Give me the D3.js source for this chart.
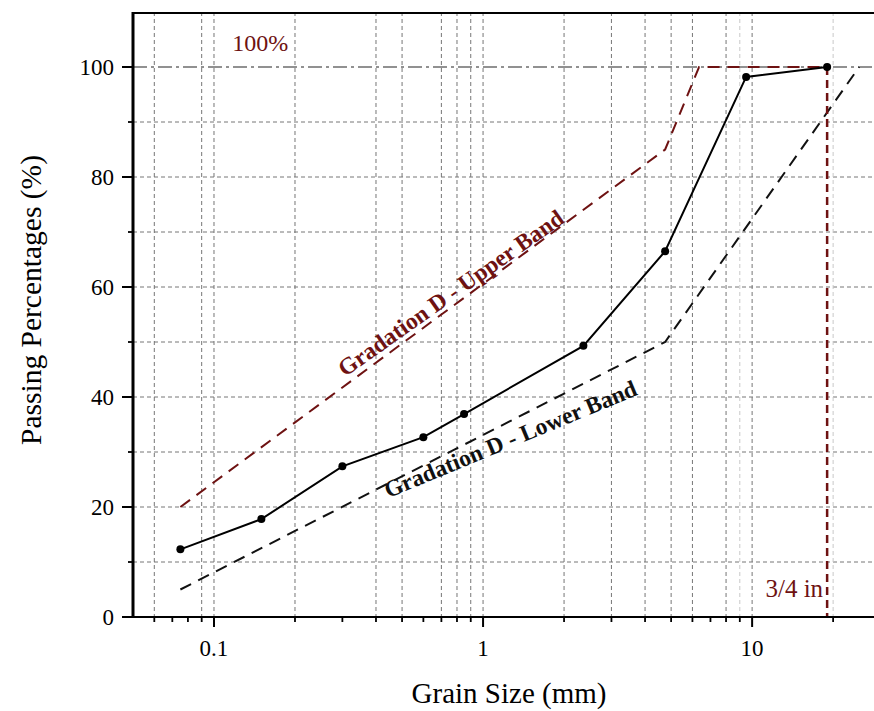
<!DOCTYPE html>
<html><head><meta charset="utf-8">
<script src="https://cdn.jsdelivr.net/npm/d3@7"></script>
<style>
body{margin:0;background:#fff}
svg{display:block}
text{font-family:"Liberation Serif","Times New Roman",serif}
</style>
</head><body>
<svg id="c" width="874" height="711"></svg>
<script>
// ---- data ----
const sieveSizes = [0.075, 0.15, 0.3, 0.6, 0.85, 2.36, 4.75, 9.5, 19];
const passing    = [12.3, 17.8, 27.4, 32.7, 36.9, 49.3, 66.5, 98.2, 100];
const upperSizes = [0.075, 4.75, 6.35, 19];
const upperBand  = [20, 85, 100, 100];
const lowerSizes = [0.075, 4.75, 25];
const lowerBand  = [5, 50, 100];
const xMajorTicks = [0.1, 1, 10];
const xTickLabels = ["0.1", "1", "10"];
const xMinorTicks = [0.06,0.07,0.08,0.09,0.2,0.3,0.4,0.5,0.6,0.7,0.8,0.9,2,3,4,5,6,7,8,9,20];
const yMajorTicks = [0, 20, 40, 60, 80, 100];
const yTickLabels = ["0", "20", "40", "60", "80", "100"];
const yMinorTicks = [10, 30, 50, 70, 90];
const yGrid = [10, 20, 30, 40, 50, 60, 70, 80, 90];
const xGrid = [0.06, 0.09, 0.1, 0.2, 0.4, 0.5, 0.7, 0.8, 0.9, 1, 2, 3, 4, 5, 6, 8, 10];
const xGridLight = [9, 20];
const refLine = 100;
const sieve34 = 19;

// ---- layout ----
const W = 874, H = 711;
const L = 133, B = 617, T = 12;
const x = d3.scaleLog().domain([0.05, 30]).range([L, 880.5]);
const y = d3.scaleLinear().domain([0, 110]).range([B, T]);
const RED = "#6e1212";
const GRID = "#767676";

const svg = d3.select("#c");
svg.append("defs").append("clipPath").attr("id","clip")
  .append("rect").attr("x", L).attr("y", T).attr("width", W - L).attr("height", B - T);

const g = svg.append("g").attr("clip-path","url(#clip)");

// grid
g.selectAll(".gy").data(yGrid).join("line")
  .attr("x1", L).attr("x2", W).attr("y1", d => y(d)).attr("y2", d => y(d))
  .attr("stroke", GRID).attr("stroke-width", 1).attr("stroke-dasharray", "4,3");
g.selectAll(".gx").data(xGrid).join("line")
  .attr("x1", d => x(d)).attr("x2", d => x(d)).attr("y1", T).attr("y2", B)
  .attr("stroke", GRID).attr("stroke-width", 1).attr("stroke-dasharray", "4,3");
g.selectAll(".gxl").data(xGridLight).join("line")
  .attr("x1", d => x(d)).attr("x2", d => x(d)).attr("y1", T).attr("y2", B)
  .attr("stroke", "#c8c8c8").attr("stroke-width", 1).attr("stroke-dasharray", "4,3");

// 100% reference line
g.append("line").attr("x1", L).attr("x2", W).attr("y1", y(refLine)).attr("y2", y(refLine))
  .attr("stroke", "#6e6e6e").attr("stroke-width", 1.5).attr("stroke-dasharray", "14,4,3,4");

const line = d3.line().x(d => x(d[0])).y(d => y(d[1]));

// bands
g.append("path").datum(upperSizes.map((s,i) => [s, upperBand[i]]))
  .attr("d", line).attr("fill","none").attr("stroke", RED).attr("stroke-width", 2)
  .attr("stroke-dasharray", "12,8");
g.append("path").datum(lowerSizes.map((s,i) => [s, lowerBand[i]]))
  .attr("d", line).attr("fill","none").attr("stroke", "#111").attr("stroke-width", 2)
  .attr("stroke-dasharray", "12,8");

// 3/4 in vertical
g.append("line").attr("x1", x(sieve34)).attr("x2", x(sieve34)).attr("y1", y(100)).attr("y2", y(0))
  .attr("stroke", RED).attr("stroke-width", 2.5).attr("stroke-dasharray", "8,5");

// gradation curve
const pts = sieveSizes.map((s,i) => [s, passing[i]]);
g.append("path").datum(pts).attr("d", line).attr("fill","none")
  .attr("stroke", "#000").attr("stroke-width", 2);
g.selectAll(".pt").data(pts).join("circle")
  .attr("cx", d => x(d[0])).attr("cy", d => y(d[1])).attr("r", 4).attr("fill", "#000");

// axes
svg.append("line").attr("x1", L).attr("x2", W).attr("y1", B).attr("y2", B)
  .attr("stroke", "#000").attr("stroke-width", 2);
svg.append("line").attr("x1", L).attr("x2", W).attr("y1", T + 1).attr("y2", T + 1)
  .attr("stroke", "#000").attr("stroke-width", 2);
svg.append("line").attr("x1", L).attr("x2", L).attr("y1", T).attr("y2", B + 1)
  .attr("stroke", "#000").attr("stroke-width", 3);

// x ticks
svg.selectAll(".xmaj").data(xMajorTicks).join("line")
  .attr("x1", d => x(d)).attr("x2", d => x(d)).attr("y1", B).attr("y2", B + 10)
  .attr("stroke", "#000").attr("stroke-width", 2);
svg.selectAll(".xmin").data(xMinorTicks).join("line")
  .attr("x1", d => x(d)).attr("x2", d => x(d)).attr("y1", B).attr("y2", B + 5)
  .attr("stroke", "#000").attr("stroke-width", 1.8);
svg.selectAll(".xlab").data(xMajorTicks).join("text")
  .attr("x", d => x(d)).attr("y", B + 39).attr("text-anchor", "middle")
  .attr("font-size", 23).attr("fill", "#000").text((d,i) => xTickLabels[i]);

// y ticks
svg.selectAll(".ymaj").data(yMajorTicks).join("line")
  .attr("x1", L - 11).attr("x2", L).attr("y1", d => y(d)).attr("y2", d => y(d))
  .attr("stroke", "#000").attr("stroke-width", 2);
svg.selectAll(".ymin").data(yMinorTicks).join("line")
  .attr("x1", L - 5).attr("x2", L).attr("y1", d => y(d)).attr("y2", d => y(d))
  .attr("stroke", "#000").attr("stroke-width", 1.8);
svg.selectAll(".ylab").data(yMajorTicks).join("text")
  .attr("x", L - 19).attr("y", d => y(d) + 8).attr("text-anchor", "end")
  .attr("font-size", 23).attr("fill", "#000").text((d,i) => yTickLabels[i]);

// axis titles
svg.append("text").attr("x", 509).attr("y", 703).attr("text-anchor", "middle")
  .attr("font-size", 29).attr("fill", "#000").text("Grain Size (mm)");
svg.append("text").attr("transform", "translate(41,300) rotate(-90)").attr("text-anchor", "middle")
  .attr("font-size", 29.5).attr("fill", "#000").text("Passing Percentages (%)");

// annotations
svg.append("text").attr("x", x(0.117)).attr("y", y(102.9)).attr("font-size", 24)
  .attr("fill", RED).text("100%");
svg.append("text").attr("x", x(sieve34) - 4).attr("y", y(3.6)).attr("text-anchor", "end")
  .attr("font-size", 25).attr("fill", RED).text("3/4 in");

svg.append("text")
  .attr("transform", `translate(${x(0.307)},${y(43.6)}) rotate(-35.2)`)
  .attr("font-size", 23.5).attr("font-weight", "bold").attr("fill", RED)
  .text("Gradation D - Upper Band");
svg.append("text")
  .attr("transform", `translate(${x(0.444)},${y(21.6)}) rotate(-22.5)`)
  .attr("font-size", 23.5).attr("font-weight", "bold").attr("fill", "#111")
  .text("Gradation D - Lower Band");
</script>
</body></html>
